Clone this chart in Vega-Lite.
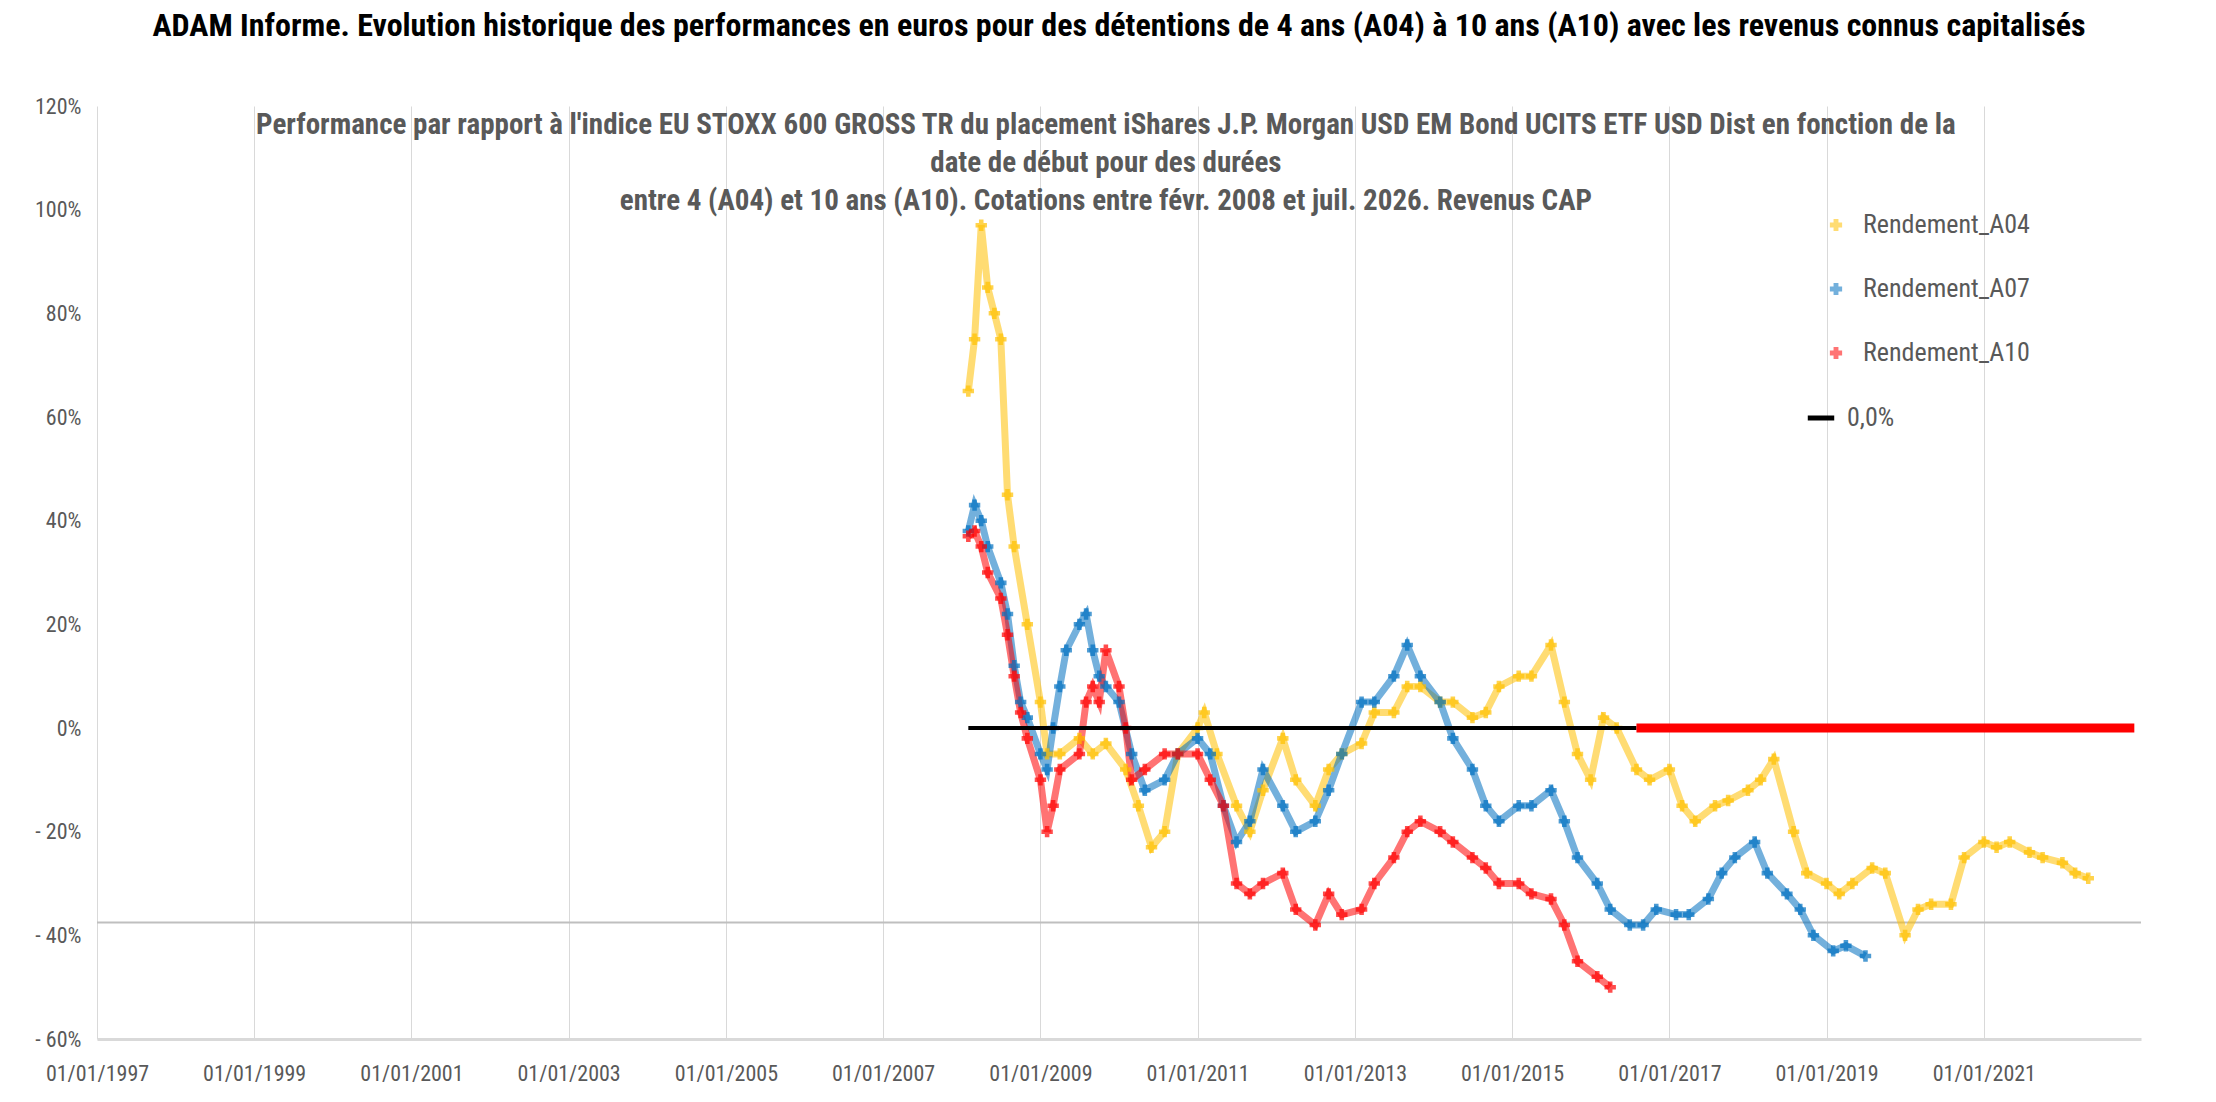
{
"$schema":"https://vega.github.io/schema/vega-lite/v6.json",
"width":2044,"height":933,"autosize":{"type":"none"},
"padding":{"left":97,"top":106,"right":75,"bottom":63},
"background":"white",
"title":{"text":"ADAM Informe. Evolution historique des performances en euros pour des détentions de 4 ans (A04) à 10 ans (A10) avec les revenus connus capitalisés","font":"Roboto Condensed, Roboto","fontSize":32,"fontWeight":"bold","color":"black","anchor":"middle","offset":52},
"datasets":{
"pts":[
{"d":"2008-02","s":"Rendement_A04","v":65},{"d":"2008-03","s":"Rendement_A04","v":75},{"d":"2008-04","s":"Rendement_A04","v":97},{"d":"2008-05","s":"Rendement_A04","v":85},{"d":"2008-06","s":"Rendement_A04","v":80},{"d":"2008-07","s":"Rendement_A04","v":75},{"d":"2008-08","s":"Rendement_A04","v":45},{"d":"2008-09","s":"Rendement_A04","v":35},{"d":"2008-11","s":"Rendement_A04","v":20},{"d":"2009-01","s":"Rendement_A04","v":5},{"d":"2009-02","s":"Rendement_A04","v":-5},{"d":"2009-04","s":"Rendement_A04","v":-5},{"d":"2009-07","s":"Rendement_A04","v":-2},{"d":"2009-09","s":"Rendement_A04","v":-5},{"d":"2009-11","s":"Rendement_A04","v":-3},{"d":"2010-02","s":"Rendement_A04","v":-8},{"d":"2010-04","s":"Rendement_A04","v":-15},{"d":"2010-06","s":"Rendement_A04","v":-23},{"d":"2010-08","s":"Rendement_A04","v":-20},{"d":"2010-10","s":"Rendement_A04","v":-5},{"d":"2011-01","s":"Rendement_A04","v":0},{"d":"2011-02","s":"Rendement_A04","v":3},{"d":"2011-04","s":"Rendement_A04","v":-5},{"d":"2011-07","s":"Rendement_A04","v":-15},{"d":"2011-09","s":"Rendement_A04","v":-20},{"d":"2011-11","s":"Rendement_A04","v":-12},{"d":"2012-02","s":"Rendement_A04","v":-2},{"d":"2012-04","s":"Rendement_A04","v":-10},{"d":"2012-07","s":"Rendement_A04","v":-15},{"d":"2012-09","s":"Rendement_A04","v":-8},{"d":"2012-11","s":"Rendement_A04","v":-5},{"d":"2013-02","s":"Rendement_A04","v":-3},{"d":"2013-04","s":"Rendement_A04","v":3},{"d":"2013-07","s":"Rendement_A04","v":3},{"d":"2013-09","s":"Rendement_A04","v":8},{"d":"2013-11","s":"Rendement_A04","v":8},{"d":"2014-02","s":"Rendement_A04","v":5},{"d":"2014-04","s":"Rendement_A04","v":5},{"d":"2014-07","s":"Rendement_A04","v":2},{"d":"2014-09","s":"Rendement_A04","v":3},{"d":"2014-11","s":"Rendement_A04","v":8},{"d":"2015-02","s":"Rendement_A04","v":10},{"d":"2015-04","s":"Rendement_A04","v":10},{"d":"2015-07","s":"Rendement_A04","v":16},{"d":"2015-09","s":"Rendement_A04","v":5},{"d":"2015-11","s":"Rendement_A04","v":-5},{"d":"2016-01","s":"Rendement_A04","v":-10},{"d":"2016-03","s":"Rendement_A04","v":2},{"d":"2016-05","s":"Rendement_A04","v":0},{"d":"2016-08","s":"Rendement_A04","v":-8},{"d":"2016-10","s":"Rendement_A04","v":-10},{"d":"2017-01","s":"Rendement_A04","v":-8},{"d":"2017-03","s":"Rendement_A04","v":-15},{"d":"2017-05","s":"Rendement_A04","v":-18},{"d":"2017-08","s":"Rendement_A04","v":-15},{"d":"2017-10","s":"Rendement_A04","v":-14},{"d":"2018-01","s":"Rendement_A04","v":-12},{"d":"2018-03","s":"Rendement_A04","v":-10},{"d":"2018-05","s":"Rendement_A04","v":-6},{"d":"2018-08","s":"Rendement_A04","v":-20},{"d":"2018-10","s":"Rendement_A04","v":-28},{"d":"2019-01","s":"Rendement_A04","v":-30},{"d":"2019-03","s":"Rendement_A04","v":-32},{"d":"2019-05","s":"Rendement_A04","v":-30},{"d":"2019-08","s":"Rendement_A04","v":-27},{"d":"2019-10","s":"Rendement_A04","v":-28},{"d":"2020-01","s":"Rendement_A04","v":-40},{"d":"2020-03","s":"Rendement_A04","v":-35},{"d":"2020-05","s":"Rendement_A04","v":-34},{"d":"2020-08","s":"Rendement_A04","v":-34},{"d":"2020-10","s":"Rendement_A04","v":-25},{"d":"2021-01","s":"Rendement_A04","v":-22},{"d":"2021-03","s":"Rendement_A04","v":-23},{"d":"2021-05","s":"Rendement_A04","v":-22},{"d":"2021-08","s":"Rendement_A04","v":-24},{"d":"2021-10","s":"Rendement_A04","v":-25},{"d":"2022-01","s":"Rendement_A04","v":-26},{"d":"2022-03","s":"Rendement_A04","v":-28},{"d":"2022-05","s":"Rendement_A04","v":-29},
{"d":"2008-02","s":"Rendement_A07","v":38},{"d":"2008-03","s":"Rendement_A07","v":43},{"d":"2008-04","s":"Rendement_A07","v":40},{"d":"2008-05","s":"Rendement_A07","v":35},{"d":"2008-07","s":"Rendement_A07","v":28},{"d":"2008-08","s":"Rendement_A07","v":22},{"d":"2008-09","s":"Rendement_A07","v":12},{"d":"2008-10","s":"Rendement_A07","v":5},{"d":"2008-11","s":"Rendement_A07","v":2},{"d":"2009-01","s":"Rendement_A07","v":-5},{"d":"2009-02","s":"Rendement_A07","v":-8},{"d":"2009-03","s":"Rendement_A07","v":0},{"d":"2009-04","s":"Rendement_A07","v":8},{"d":"2009-05","s":"Rendement_A07","v":15},{"d":"2009-07","s":"Rendement_A07","v":20},{"d":"2009-08","s":"Rendement_A07","v":22},{"d":"2009-09","s":"Rendement_A07","v":15},{"d":"2009-10","s":"Rendement_A07","v":10},{"d":"2009-11","s":"Rendement_A07","v":8},{"d":"2010-01","s":"Rendement_A07","v":5},{"d":"2010-03","s":"Rendement_A07","v":-5},{"d":"2010-05","s":"Rendement_A07","v":-12},{"d":"2010-08","s":"Rendement_A07","v":-10},{"d":"2010-10","s":"Rendement_A07","v":-5},{"d":"2011-01","s":"Rendement_A07","v":-2},{"d":"2011-03","s":"Rendement_A07","v":-5},{"d":"2011-05","s":"Rendement_A07","v":-15},{"d":"2011-07","s":"Rendement_A07","v":-22},{"d":"2011-09","s":"Rendement_A07","v":-18},{"d":"2011-11","s":"Rendement_A07","v":-8},{"d":"2012-02","s":"Rendement_A07","v":-15},{"d":"2012-04","s":"Rendement_A07","v":-20},{"d":"2012-07","s":"Rendement_A07","v":-18},{"d":"2012-09","s":"Rendement_A07","v":-12},{"d":"2012-11","s":"Rendement_A07","v":-5},{"d":"2013-02","s":"Rendement_A07","v":5},{"d":"2013-04","s":"Rendement_A07","v":5},{"d":"2013-07","s":"Rendement_A07","v":10},{"d":"2013-09","s":"Rendement_A07","v":16},{"d":"2013-11","s":"Rendement_A07","v":10},{"d":"2014-02","s":"Rendement_A07","v":5},{"d":"2014-04","s":"Rendement_A07","v":-2},{"d":"2014-07","s":"Rendement_A07","v":-8},{"d":"2014-09","s":"Rendement_A07","v":-15},{"d":"2014-11","s":"Rendement_A07","v":-18},{"d":"2015-02","s":"Rendement_A07","v":-15},{"d":"2015-04","s":"Rendement_A07","v":-15},{"d":"2015-07","s":"Rendement_A07","v":-12},{"d":"2015-09","s":"Rendement_A07","v":-18},{"d":"2015-11","s":"Rendement_A07","v":-25},{"d":"2016-02","s":"Rendement_A07","v":-30},{"d":"2016-04","s":"Rendement_A07","v":-35},{"d":"2016-07","s":"Rendement_A07","v":-38},{"d":"2016-09","s":"Rendement_A07","v":-38},{"d":"2016-11","s":"Rendement_A07","v":-35},{"d":"2017-02","s":"Rendement_A07","v":-36},{"d":"2017-04","s":"Rendement_A07","v":-36},{"d":"2017-07","s":"Rendement_A07","v":-33},{"d":"2017-09","s":"Rendement_A07","v":-28},{"d":"2017-11","s":"Rendement_A07","v":-25},{"d":"2018-02","s":"Rendement_A07","v":-22},{"d":"2018-04","s":"Rendement_A07","v":-28},{"d":"2018-07","s":"Rendement_A07","v":-32},{"d":"2018-09","s":"Rendement_A07","v":-35},{"d":"2018-11","s":"Rendement_A07","v":-40},{"d":"2019-02","s":"Rendement_A07","v":-43},{"d":"2019-04","s":"Rendement_A07","v":-42},{"d":"2019-07","s":"Rendement_A07","v":-44},
{"d":"2008-02","s":"Rendement_A10","v":37},{"d":"2008-03","s":"Rendement_A10","v":38},{"d":"2008-04","s":"Rendement_A10","v":35},{"d":"2008-05","s":"Rendement_A10","v":30},{"d":"2008-07","s":"Rendement_A10","v":25},{"d":"2008-08","s":"Rendement_A10","v":18},{"d":"2008-09","s":"Rendement_A10","v":10},{"d":"2008-10","s":"Rendement_A10","v":3},{"d":"2008-11","s":"Rendement_A10","v":-2},{"d":"2009-01","s":"Rendement_A10","v":-10},{"d":"2009-02","s":"Rendement_A10","v":-20},{"d":"2009-03","s":"Rendement_A10","v":-15},{"d":"2009-04","s":"Rendement_A10","v":-8},{"d":"2009-07","s":"Rendement_A10","v":-5},{"d":"2009-08","s":"Rendement_A10","v":5},{"d":"2009-09","s":"Rendement_A10","v":8},{"d":"2009-10","s":"Rendement_A10","v":5},{"d":"2009-11","s":"Rendement_A10","v":15},{"d":"2010-01","s":"Rendement_A10","v":8},{"d":"2010-02","s":"Rendement_A10","v":0},{"d":"2010-03","s":"Rendement_A10","v":-10},{"d":"2010-05","s":"Rendement_A10","v":-8},{"d":"2010-08","s":"Rendement_A10","v":-5},{"d":"2010-10","s":"Rendement_A10","v":-5},{"d":"2011-01","s":"Rendement_A10","v":-5},{"d":"2011-03","s":"Rendement_A10","v":-10},{"d":"2011-05","s":"Rendement_A10","v":-15},{"d":"2011-07","s":"Rendement_A10","v":-30},{"d":"2011-09","s":"Rendement_A10","v":-32},{"d":"2011-11","s":"Rendement_A10","v":-30},{"d":"2012-02","s":"Rendement_A10","v":-28},{"d":"2012-04","s":"Rendement_A10","v":-35},{"d":"2012-07","s":"Rendement_A10","v":-38},{"d":"2012-09","s":"Rendement_A10","v":-32},{"d":"2012-11","s":"Rendement_A10","v":-36},{"d":"2013-02","s":"Rendement_A10","v":-35},{"d":"2013-04","s":"Rendement_A10","v":-30},{"d":"2013-07","s":"Rendement_A10","v":-25},{"d":"2013-09","s":"Rendement_A10","v":-20},{"d":"2013-11","s":"Rendement_A10","v":-18},{"d":"2014-02","s":"Rendement_A10","v":-20},{"d":"2014-04","s":"Rendement_A10","v":-22},{"d":"2014-07","s":"Rendement_A10","v":-25},{"d":"2014-09","s":"Rendement_A10","v":-27},{"d":"2014-11","s":"Rendement_A10","v":-30},{"d":"2015-02","s":"Rendement_A10","v":-30},{"d":"2015-04","s":"Rendement_A10","v":-32},{"d":"2015-07","s":"Rendement_A10","v":-33},{"d":"2015-09","s":"Rendement_A10","v":-38},{"d":"2015-11","s":"Rendement_A10","v":-45},{"d":"2016-02","s":"Rendement_A10","v":-48},{"d":"2016-04","s":"Rendement_A10","v":-50}
],
"zero":[{"a":"2008-02","b":"2016-08","k":"0,0%"}],
"zred":[{"a":"2016-08","b":"2022-12"}],
"grey":[{"y":-37.5}],
"sub":[{"d":"2009-11","v":119}]
},
"layer":[
{"data":{"name":"grey"},"mark":{"type":"rule","color":"#BFBFBF","strokeWidth":2},"encoding":{"y":{"field":"y","type":"quantitative"}}},
{"data":{"name":"pts"},"mark":{"type":"line","strokeWidth":7,"opacity":0.55},
"encoding":{"x":{"field":"d","type":"temporal","scale":{"domain":["1997-01-01","2023-01-01"]},
"axis":{"values":[{"year":1997,"month":1,"date":1},{"year":1999,"month":1,"date":1},{"year":2001,"month":1,"date":1},{"year":2003,"month":1,"date":1},{"year":2005,"month":1,"date":1},{"year":2007,"month":1,"date":1},{"year":2009,"month":1,"date":1},{"year":2011,"month":1,"date":1},{"year":2013,"month":1,"date":1},{"year":2015,"month":1,"date":1},{"year":2017,"month":1,"date":1},{"year":2019,"month":1,"date":1},{"year":2021,"month":1,"date":1}],"format":"%d/%m/%Y","title":null,"grid":true,"gridColor":"#D9D9D9","domainColor":"#D9D9D9","domainWidth":3,"ticks":false,"labelFlush":false,"labelOverlap":false,"labelFont":"Roboto Condensed, Roboto","labelFontSize":22,"labelColor":"#595959","labelPadding":24}},
"y":{"field":"v","type":"quantitative","scale":{"domain":[-60,120]},"axis":{"values":[-60,-40,-20,0,20,40,60,80,100,120],"labelExpr":"datum.value<0 ? '- '+(-datum.value)+'%' : datum.value+'%'","title":null,"grid":false,"domain":false,"ticks":false,"labelFont":"Roboto Condensed, Roboto","labelFontSize":22,"labelColor":"#595959","labelPadding":16}},
"color":{"field":"s","type":"nominal","scale":{"domain":["Rendement_A04","Rendement_A07","Rendement_A10"],"range":["#FFC000","#0070C0","#FF0000"]},
"legend":{"title":null,"orient":"none","legendX":1726,"legendY":106,"labelFontSize":26,"labelLimit":400,"labelFont":"Roboto Condensed, Roboto","labelColor":"#595959","symbolType":"cross","symbolSize":150,"symbolStrokeWidth":0,"rowPadding":38,"labelOffset":14}},
"detail":{"field":"s"}}},
{"data":{"name":"pts"},"mark":{"type":"point","shape":"cross","filled":true,"size":130},
"encoding":{"x":{"field":"d","type":"temporal"},"y":{"field":"v","type":"quantitative"},
"color":{"field":"s","type":"nominal"}}},
{"data":{"name":"zero"},"mark":{"type":"rule","strokeWidth":4},"encoding":{"x":{"field":"a","type":"temporal"},"x2":{"field":"b"},"y":{"datum":0},
"stroke":{"field":"k","type":"nominal","scale":{"range":["black"]},"legend":{"title":null,"orient":"none","legendX":1708,"legendY":296,"labelFontSize":26,"labelFont":"Roboto Condensed, Roboto","labelColor":"#595959","symbolType":"stroke","symbolStrokeWidth":5,"symbolSize":700,"labelOffset":10}}}},
{"data":{"name":"zred"},"mark":{"type":"rule","strokeWidth":9,"color":"#FF0000"},"encoding":{"x":{"field":"a","type":"temporal"},"x2":{"field":"b"},"y":{"datum":0}}},
{"data":{"name":"sub"},"mark":{"type":"text","font":"Roboto Condensed, Roboto","fontSize":29,"fontWeight":"bold","color":"#595959","baseline":"top","lineHeight":38,"text":["Performance par rapport à l'indice EU STOXX 600 GROSS TR  du placement iShares J.P. Morgan USD EM Bond UCITS ETF USD Dist en fonction de la","date de début pour des durées","entre 4 (A04) et 10 ans (A10). Cotations entre févr. 2008 et juil. 2026. Revenus CAP"]},
"encoding":{"x":{"field":"d","type":"temporal"},"y":{"field":"v","type":"quantitative"}}}
],
"config":{"view":{"stroke":null}}
}
